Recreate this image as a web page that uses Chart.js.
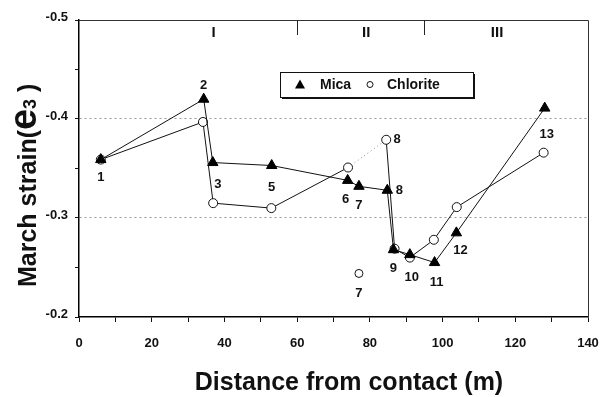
<!DOCTYPE html>
<html>
<head>
<meta charset="utf-8">
<script src="https://cdn.jsdelivr.net/npm/chart.js@4"></script>
<style>
html, body { margin: 0; padding: 0; background: #fff; }
</style>
</head>
<body>
<canvas id="strainChart" width="600" height="397"></canvas>
<script>
// Mica samples (filled triangles)
const micaX = [6, 34.3, 36.8, 53, 73.9, 77, 84.8, 86.5, 91, 97.8, 103.8, 128.1];
const micaY = [-0.359, -0.42, -0.356, -0.353, -0.338, -0.332, -0.328, -0.268, -0.263, -0.255, -0.285, -0.411];
const micaLabels = ['1', '2', '3', '5', '6', '7', '8', '9', '10', '11', '12', '13'];

// Chlorite samples (open circles)
const chloriteX = [6, 34.1, 36.9, 52.9, 74, 84.5, 86.8, 91, 97.6, 103.9, 127.8];
const chloriteY = [-0.359, -0.397, -0.315, -0.31, -0.351, -0.379, -0.269, -0.26, -0.278, -0.311, -0.366];
const chloriteLabels = ['', '', '', '', '', '8', '', '', '', '', ''];

// chlorite sample 7 stands on its own, not joined
const chlorite7X = [77];
const chlorite7Y = [-0.244];
const chlorite7Labels = ['7'];

// zones along the contact distance
const zoneBounds = [60, 95];
const zoneNames = ['I', 'II', 'III'];
const zoneNameX = [37, 79, 115];

const legendNames = ['Mica', 'Chlorite'];
const xTitle = 'Distance from contact (m)';
const yTitleParts = ['March strain(', 'e', '3', ' )'];

const toPoints = (xs, ys) => xs.map((v, i) => ({ x: v, y: ys[i] }));

// label offsets from the marker, px  [dx, dy]
const labelOffsets = {
    0: [[0, 18], [0, -14], [5, 22], [0, 22], [-2, 19], [0, 19], [12, 0], [0, 19], [2, 23], [2, 20], [4, 18], [2, 26]],
    1: { 5: [11, 0] },
    2: [[0, 20]]
};

const boldFont = '"Liberation Sans", Arial, sans-serif';

const extras = {
    id: 'extras',
    afterDraw(chart) {
        const { ctx, chartArea: a, scales: { x } } = chart;
        ctx.save();

        // frame top and right
        ctx.strokeStyle = '#333';
        ctx.lineWidth = 1;
        ctx.beginPath();
        ctx.moveTo(a.left, a.top + 0.5);
        ctx.lineTo(a.right + 0.5, a.top + 0.5);
        ctx.lineTo(a.right + 0.5, a.bottom);
        ctx.stroke();

        // zone dividers and names
        ctx.strokeStyle = '#222';
        zoneBounds.forEach(v => {
            const px = Math.round(x.getPixelForValue(v)) + 0.5;
            ctx.beginPath();
            ctx.moveTo(px, a.top);
            ctx.lineTo(px, a.top + 15);
            ctx.stroke();
        });
        ctx.fillStyle = '#111';
        ctx.font = 'bold 15px ' + boldFont;
        ctx.textAlign = 'center';
        ctx.textBaseline = 'middle';
        zoneNames.forEach((n, i) => {
            ctx.fillText(n, x.getPixelForValue(zoneNameX[i]), a.top + 13);
        });

        // sample numbers
        const allLabels = [micaLabels, chloriteLabels, chlorite7Labels];
        ctx.font = 'bold 13px ' + boldFont;
        chart.data.datasets.forEach((ds, di) => {
            const meta = chart.getDatasetMeta(di);
            meta.data.forEach((pt, i) => {
                const txt = allLabels[di][i];
                if (!txt) return;
                const off = (labelOffsets[di] && labelOffsets[di][i]) || [0, 18];
                ctx.fillText(txt, pt.x + off[0], pt.y + off[1]);
            });
        });

        // x axis title
        ctx.font = 'bold 25px ' + boldFont;
        ctx.fillText(xTitle, 349, 383);

        // legend box with drop shadow
        const lx = 280, ly = 72, lw = 193, lh = 25;
        ctx.fillStyle = '#111';
        ctx.fillRect(lx + 2, ly + 2, lw, lh);
        ctx.fillStyle = '#fff';
        ctx.fillRect(lx, ly, lw, lh);
        ctx.strokeStyle = '#111';
        ctx.strokeRect(lx + 0.5, ly + 0.5, lw, lh);
        const cy = ly + lh / 2;
        ctx.fillStyle = '#000';
        ctx.beginPath();
        ctx.moveTo(300, cy - 5);
        ctx.lineTo(305, cy + 4);
        ctx.lineTo(295, cy + 4);
        ctx.closePath();
        ctx.fill();
        ctx.beginPath();
        ctx.arc(370, cy, 3, 0, Math.PI * 2);
        ctx.lineWidth = 1;
        ctx.stroke();
        ctx.fillStyle = '#111';
        ctx.font = 'bold 14px ' + boldFont;
        ctx.textAlign = 'left';
        ctx.fillText(legendNames[0], 320, cy + 1);
        ctx.fillText(legendNames[1], 387, cy + 1);

        // y axis title, big "e" with small 3
        ctx.translate(36, 287);
        ctx.rotate(-Math.PI / 2);
        ctx.textBaseline = 'alphabetic';
        const sizes = [25, 38, 18, 25];
        let pos = 0;
        yTitleParts.forEach((t, i) => {
            ctx.font = 'bold ' + sizes[i] + 'px ' + boldFont;
            ctx.fillText(t, pos, 0);
            pos += ctx.measureText(t).width;
        });

        ctx.restore();
    }
};

const isMajor = v => Math.abs(Math.round(v * 10) - v * 10) < 1e-6;

new Chart(document.getElementById('strainChart'), {
    type: 'line',
    data: {
        datasets: [
            {
                label: 'Mica',
                data: toPoints(micaX, micaY),
                borderColor: '#111',
                borderWidth: 1,
                pointStyle: 'triangle',
                pointRadius: 6,
                pointBackgroundColor: '#000',
                pointBorderColor: '#000',
                tension: 0
            },
            {
                label: 'Chlorite',
                data: toPoints(chloriteX, chloriteY),
                borderColor: '#111',
                borderWidth: 1,
                pointStyle: 'circle',
                pointRadius: 4.5,
                pointBackgroundColor: '#fff',
                pointBorderColor: '#111',
                pointBorderWidth: 1,
                tension: 0,
                segment: {
                    borderDash: c => c.p0DataIndex === 4 ? [1, 3] : undefined,
                    borderColor: c => c.p0DataIndex === 4 ? '#888' : undefined
                }
            },
            {
                label: 'Chlorite 7',
                data: toPoints(chlorite7X, chlorite7Y),
                showLine: false,
                pointStyle: 'circle',
                pointRadius: 4,
                pointBackgroundColor: '#fff',
                pointBorderColor: '#111',
                pointBorderWidth: 1
            }
        ]
    },
    options: {
        responsive: false,
        animation: false,
        layout: { padding: { top: 20, right: 0 } },
        plugins: {
            legend: { display: false },
            tooltip: { enabled: false }
        },
        scales: {
            x: {
                type: 'linear',
                min: 0,
                max: 140,
                afterFit: s => {
                    s.height = 80;
                    s.paddingLeft = 0;
                    s.paddingRight = 12;
                },
                ticks: {
                    stepSize: 10,
                    padding: 14,
                    color: '#111',
                    font: { family: boldFont, size: 13, weight: 'bold' },
                    maxRotation: 0,
                    callback: v => (v % 20 === 0 ? v : '')
                },
                grid: {
                    drawOnChartArea: false,
                    tickLength: 5,
                    tickColor: '#111'
                },
                border: { color: '#000', width: 1.5 }
            },
            y: {
                type: 'linear',
                reverse: true,
                min: -0.5,
                max: -0.2,
                afterFit: s => { s.width = 79; },
                ticks: {
                    stepSize: 0.05,
                    padding: 7,
                    labelOffset: -3,
                    color: '#111',
                    font: { family: boldFont, size: 13, weight: 'bold' },
                    callback: v => (isMajor(v) ? v.toFixed(1) : '')
                },
                grid: {
                    tickLength: 4,
                    tickColor: '#111',
                    color: c => {
                        const v = c.tick && c.tick.value;
                        if (v === undefined) return 'transparent';
                        return (Math.abs(v + 0.4) < 1e-6 || Math.abs(v + 0.3) < 1e-6) ? '#999' : 'transparent';
                    }
                },
                border: { color: '#000', width: 1.5, dash: [2, 3] }
            }
        }
    },
    plugins: [extras]
});
</script>
</body>
</html>
